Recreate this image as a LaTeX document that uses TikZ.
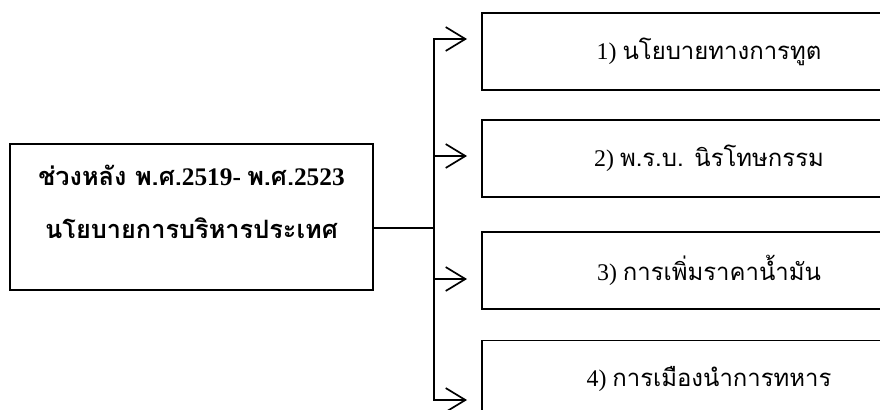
\documentclass[tikz,border=0pt]{standalone}
\usepackage{fontspec}
\setmainfont{Liberation Serif}
\newfontfamily\thaifont[Script=Thai]{Loma}
\usetikzlibrary{arrows.meta,positioning}

\begin{document}
\begin{tikzpicture}[
    x=0.025cm, y=-0.025cm,
    mainbox/.style={draw, line width=1.3pt, minimum width=9.075cm, minimum height=3.65cm, align=center, font=\fontsize{18}{38}\selectfont\bfseries},
    itembox/.style={draw, line width=1.3pt, minimum width=11.35cm, minimum height=1.925cm, font=\fontsize{17}{20}\selectfont},
    arrow/.style={-{Straight Barb[length=14pt, width=17pt]}, line width=1.2pt}
]
\useasboundingbox (0,0) rectangle (880,409);
\clip (0,0) rectangle (880,409);

% Period box
\node[mainbox] (period) at (191.5, 217) {
    {\thaifont ช่วงหลัง พ.ศ.}2519- {\thaifont พ.ศ.}2523\\
    {\thaifont นโยบายการบริหารประเทศ}\\[-16pt]
};

% Policy boxes
\node[itembox] (pol1) at (709, 51.5) {1) {\thaifont นโยบายทางการทูต}};
\node[itembox, below=0.7cm of pol1] (pol2) {2) {\thaifont พ.ร.บ. นิรโทษกรรม}};
\node[itembox, below=0.825cm of pol2] (pol3) {3) {\thaifont การเพิ่มราคาน้ำมัน}};
\node[itembox, below=0.75cm of pol3] (pol4) {4) {\thaifont การเมืองนำการทหาร}};

% Fork
\coordinate (fork) at (434, 228);
\coordinate (tip1) at (467, 39);
\coordinate (tip2) at (467, 156);
\coordinate (tip3) at (467, 279);
\coordinate (tip4) at (467, 400);

\draw[line width=1.2pt] (period.east |- fork) -- (fork);
\foreach \t in {tip1,tip2,tip3,tip4}
    \draw[arrow] (fork) |- (\t);

\end{tikzpicture}
\end{document}
